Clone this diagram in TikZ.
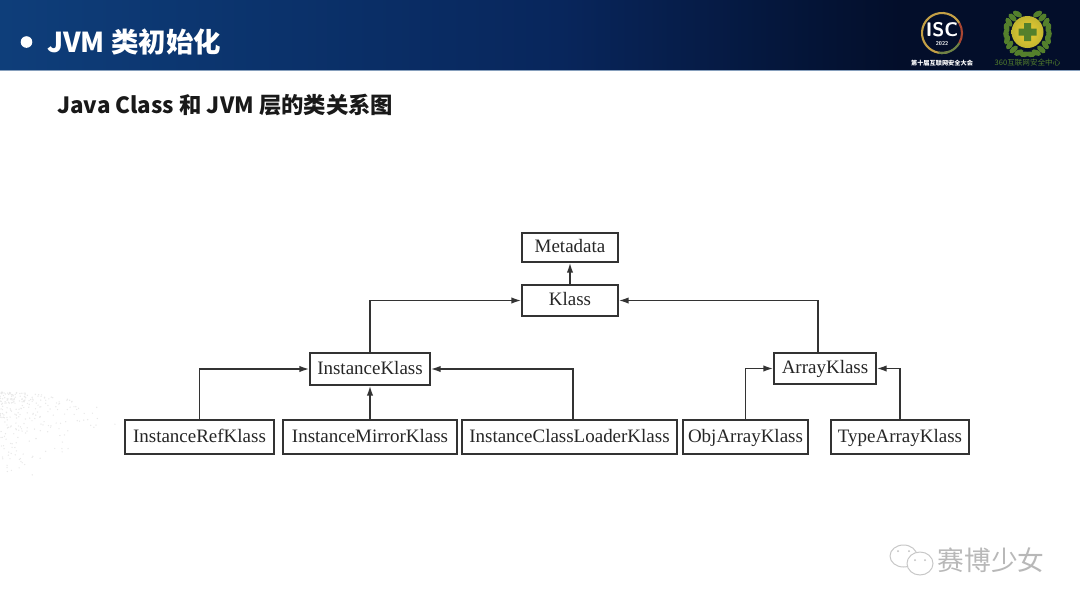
\documentclass[tikz,border=0pt]{standalone}
\usepackage{fontspec}
\setmainfont{Liberation Serif}
\newfontfamily\cjk{Noto Sans CJK SC}
\usetikzlibrary{arrows.meta}
\definecolor{headblue}{RGB}{8,38,92}
\definecolor{headlight}{RGB}{14,62,122}
\definecolor{headdark}{RGB}{3,14,42}
\definecolor{ringgold}{RGB}{196,160,70}
\definecolor{ringred}{RGB}{170,70,50}
\definecolor{ringgreen}{RGB}{110,130,70}
\definecolor{leafgreen}{RGB}{84,128,44}
\definecolor{ballyellow}{RGB}{240,205,50}
\def\unit{0.025cm}
\tikzset{
klassbox/.style={draw=black!80,line width=1.1pt,fill=white,inner sep=0pt,text height=10.2pt,text depth=2.9pt,font=\fontsize{13.5pt}{14pt}\selectfont,text=black!85},
inherit/.style={draw=black!80,line width=1.1pt,-{Latex[length=7pt,width=4.5pt]}},
leaf/.style={fill=leafgreen,draw=none},
}
\begin{document}
\begin{tikzpicture}[x=\unit,y=-\unit]
\useasboundingbox (0,0) rectangle (1080,607);
% header band
\fill[white] (0,0) rectangle (1080,607);
\shade[left color=headlight,right color=headblue] (0,0) rectangle (560,70);
\shade[left color=headblue,right color=headdark] (560,0) rectangle (900,70);
\fill[headdark] (900,0) rectangle (1080,70);
\fill[headlight!50!white] (0,69.5) rectangle (1080,70.5);
% faint dots, lower left
\pgfmathsetseed{7}
\foreach \i in {1,...,260}{
\pgfmathsetmacro{\dx}{120*rnd*rnd}
\pgfmathsetmacro{\dy}{392+0.0016*\dx*\dx+90*rnd*rnd}
\fill[black!9] (\dx,\dy) circle (0.7);
}
% titles
\fill[white] (26.5,42) circle (5.8);
\node[text=white,font=\cjk\bfseries\fontsize{19.5pt}{20pt}\selectfont,anchor=west,inner sep=0pt] (title) at (47,42) {JVM 类初始化};
\node[text=black!90,font=\cjk\bfseries\fontsize{15.9pt}{18pt}\selectfont,anchor=west,inner sep=0pt] (subtitle) at (57,105) {Java Class 和 JVM 层的类关系图};
% ISC logo
\draw[ringgold,line width=1.5pt] (942,33)++(-30:20) arc[start angle=-30,end angle=-290,radius=20];
\draw[ringgreen,line width=1.5pt] (942,33)++(100:20) arc[start angle=100,end angle=30,radius=20];
\draw[ringred,line width=1.5pt] (942,33)++(30:20) arc[start angle=30,end angle=-30,radius=20];
\node[text=white,font=\sffamily\bfseries\fontsize{14pt}{15pt}\selectfont,inner sep=0pt] (isc) at (942,30) {ISC};
\node[text=white,font=\sffamily\bfseries\fontsize{4pt}{5pt}\selectfont,inner sep=0pt] (year) at (942,44) {2022};
\node[text=white,font=\cjk\bfseries\fontsize{4.4pt}{5pt}\selectfont,inner sep=0pt] (isctext) at (942,63) {第十届互联网安全大会};
% 360 logo
\foreach \a in {-62,-46,-30,-14,2,18,34,50,66,82}{
\fill[leaf] (1027.5,33)++(\a:21.5) ellipse[x radius=5,y radius=2.8,rotate=\a-90];
\fill[leaf] (1027.5,33)++(180-\a:21.5) ellipse[x radius=5,y radius=2.8,rotate=90-\a];
}
\shade[inner color=ballyellow,outer color=ballyellow!70!leafgreen] (1027.5,32) circle (16);
\fill[leafgreen] (1024,23) rectangle (1031,41) (1018.5,28.5) rectangle (1036.5,35.5);
\node[text=leafgreen,font=\cjk\fontsize{5.4pt}{6pt}\selectfont,inner sep=0pt] (qihoo) at (1027.5,63) {360互联网安全中心};
% watermark
\draw[black!22,fill=white,line width=0.7pt] (903.5,556) ellipse (13.5 and 11);
\draw[black!22,fill=white,line width=0.7pt] (920,563.5) ellipse (13 and 11.5);
\foreach \ex/\ey in {898/551,909/551,915/560,925/560}{
\fill[black!25] (\ex,\ey) circle (1);
}
\node[text=black!28,font=\cjk\fontsize{19pt}{20pt}\selectfont,inner sep=0pt] (mark) at (991,560) {赛博少女};
% klass boxes
\node[klassbox,minimum width=96*\unit,minimum height=29*\unit] (meta) at (570,247.5) {Metadata};
\node[klassbox,minimum width=96*\unit,minimum height=31*\unit] (klass) at (570,300.5) {Klass};
\node[klassbox,minimum width=120*\unit,minimum height=32*\unit] (ik) at (370,369) {InstanceKlass};
\node[klassbox,minimum width=102*\unit,minimum height=31*\unit] (ak) at (825,368.5) {ArrayKlass};
\node[klassbox,minimum width=149*\unit,minimum height=34*\unit] (irk) at (199.5,437) {InstanceRefKlass};
\node[klassbox,minimum width=174*\unit,minimum height=34*\unit] (imk) at (370,437) {InstanceMirrorKlass};
\node[klassbox,minimum width=215*\unit,minimum height=34*\unit] (iclk) at (569.5,437) {InstanceClassLoaderKlass};
\node[klassbox,minimum width=125*\unit,minimum height=34*\unit] (oak) at (745.5,437) {ObjArrayKlass};
\node[klassbox,minimum width=138*\unit,minimum height=34*\unit] (tak) at (900,437) {TypeArrayKlass};
% inheritance
\draw[inherit] (klass) -- (meta);
\draw[inherit] (ik.north) |- (klass.west);
\draw[inherit] ([xshift=-7*\unit]ak.north) |- (klass.east);
\draw[inherit] (irk.north) |- (ik.west);
\draw[inherit] (imk) -- (ik);
\draw[inherit] ([xshift=3.5*\unit]iclk.north) |- (ik.east);
\draw[inherit] (oak.north) |- (ak.west);
\draw[inherit] (tak.north) |- (ak.east);
\end{tikzpicture}
\end{document}
